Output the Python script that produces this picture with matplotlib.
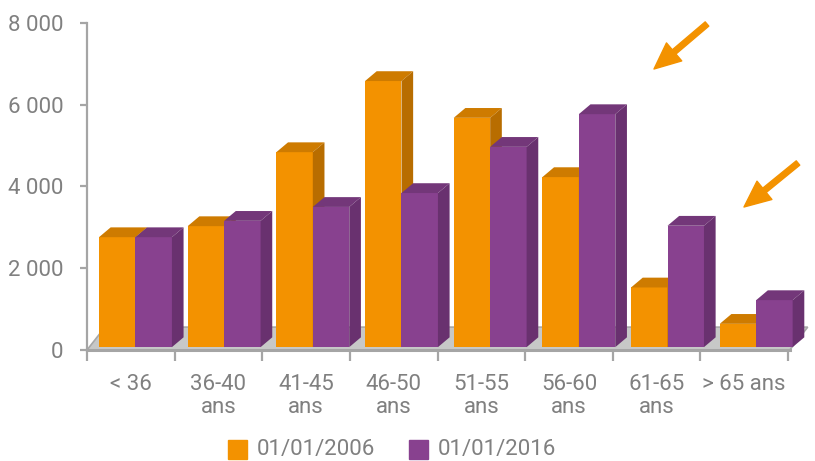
import matplotlib
matplotlib.use("Agg")
import matplotlib.pyplot as plt
from matplotlib.patches import Polygon, Rectangle

categories = ["< 36", "36-40\nans", "41-45\nans", "46-50\nans", "51-55\nans",
              "56-60\nans", "61-65\nans", "> 65 ans"]
series_names = ["01/01/2006", "01/01/2016"]
values_2006 = [2760, 3030, 4840, 6580, 5680, 4230, 1530, 640]
values_2016 = [2760, 3160, 3500, 3840, 4970, 5770, 3040, 1220]
yticks = [0, 2000, 4000, 6000, 8000]
ytick_labels = ["0", "2 000", "4 000", "6 000", "8 000"]

# front, top, side shades
orange = ("#F39200", "#CE7B00", "#B86D00")
purple = ("#88418F", "#733779", "#69316F")
grey_txt = "#808080"
axis_col = "#A5A5A5"

plt.rcParams["font.family"] = ["Roboto", "DejaVu Sans"]

W, H = 815, 461
fig = plt.figure(figsize=(W / 100, H / 100), dpi=100)
# axes: x 0..8 categories -> px 87..788, y 0..8000 -> px 350..23
ax = fig.add_axes([87 / W, (H - 350) / H, (788 - 87) / W, (350 - 23) / H])
ax.set_xlim(0, 8)
ax.set_ylim(0, 8000)
for s in ["top", "right", "bottom"]:
    ax.spines[s].set_visible(False)
ax.spines["left"].set_color(axis_col)
ax.spines["left"].set_linewidth(1.6)
ax.spines["left"].set_zorder(1)

# 3d look
dx, dy = 0.133, 240          # bar depth
fdx, fdy = 0.205, 560        # floor depth
base = 70
bw = 0.416
x0, step = 0.137, 1.012

floor = Polygon([(0, 0), (8.02, 0), (8.02 + fdx, fdy), (fdx, fdy)], closed=True,
                facecolor="#C7C8C7", edgecolor="#A8A8A8", lw=1.2, clip_on=False, zorder=1)
ax.add_patch(floor)
ax.plot([0, 8.02], [0, 0], color=axis_col, lw=2.2, clip_on=False, zorder=1.5)


def box(x, h, cols, z):
    front, top, side = cols
    ax.bar(x, h - base, width=bw, bottom=base, align="edge", color=front,
           zorder=z, clip_on=False)
    ax.add_patch(Polygon([(x, h), (x + bw, h), (x + bw + dx, h + dy), (x + dx, h + dy)],
                         facecolor=top, edgecolor="none", zorder=z, clip_on=False))
    ax.add_patch(Polygon([(x + bw, base), (x + bw + dx, base + dy),
                          (x + bw + dx, h + dy), (x + bw, h)],
                         facecolor=side, edgecolor="none", zorder=z, clip_on=False))


for i in range(len(categories)):
    xl = x0 + step * i
    box(xl, values_2006[i], orange, 2 + i * 0.1)
    box(xl + bw, values_2016[i], purple, 2.05 + i * 0.1)

ax.set_yticks(yticks)
ax.set_yticklabels(ytick_labels)
ax.tick_params(axis="y", length=5, width=1.6, color=axis_col, pad=12,
               labelsize=16, labelcolor=grey_txt)
ax.set_xticks([i for i in range(len(categories) + 1)])
ax.set_xticklabels([])
ax.tick_params(axis="x", length=8, width=1.6, color=axis_col)

for i, lab in enumerate(categories):
    ax.text(i + 0.5, -(374 - 350) / 327 * 8000, lab, ha="center", va="top",
            fontsize=16, color=grey_txt, linespacing=1.12)

# legend
fig.patches.append(Rectangle((228 / W, (H - 459) / H), 19 / W, 19 / H,
                             transform=fig.transFigure, color=orange[0]))
fig.text(257 / W, (H - 449) / H, series_names[0], va="center", fontsize=16, color=grey_txt)
fig.patches.append(Rectangle((409 / W, (H - 459) / H), 19 / W, 19 / H,
                             transform=fig.transFigure, color=purple[0]))
fig.text(438 / W, (H - 449) / H, series_names[1], va="center", fontsize=16, color=grey_txt)

# arrows
arrow = dict(width=4, headwidth=17, headlength=19, color="#F39200", shrink=0)
ax.annotate("", xy=(654, H - 69), xytext=(707, H - 24), xycoords="figure pixels",
            textcoords="figure pixels", arrowprops=arrow)
ax.annotate("", xy=(744, H - 207), xytext=(798, H - 163), xycoords="figure pixels",
            textcoords="figure pixels", arrowprops=arrow)

fig.savefig("out.png", dpi=100)
